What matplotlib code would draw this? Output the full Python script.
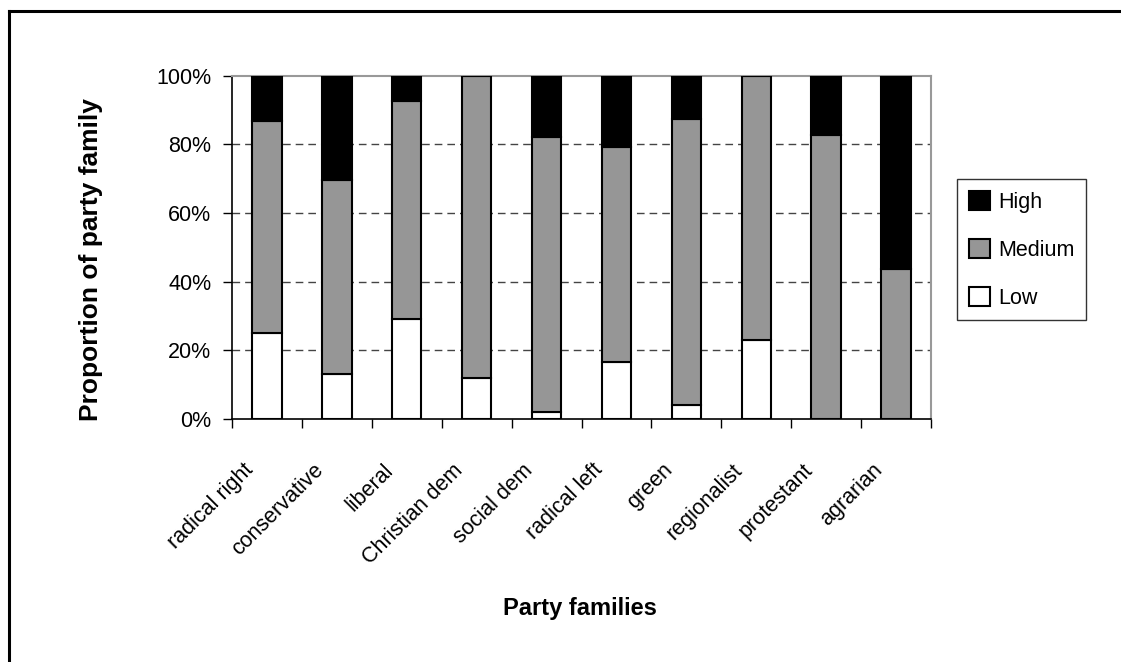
import matplotlib
matplotlib.use("Agg")
import matplotlib.pyplot as plt
import matplotlib.transforms as mtransforms
from matplotlib.lines import Line2D
import numpy as np

plt.rcParams['font.family'] = ['Liberation Sans', 'DejaVu Sans']
plt.rcParams['lines.scale_dashes'] = False

categories = ["radical right", "conservative", "liberal", "Christian dem", "social dem",
              "radical left", "green", "regionalist", "protestant", "agrarian"]
low = [25.0, 13.1, 29.2, 11.8, 1.9, 16.6, 4.1, 23.0, 0.0, 0.0]
medium = [61.8, 56.5, 63.3, 88.2, 80.1, 62.6, 83.4, 77.0, 82.6, 43.6]
high = [13.2, 30.4, 7.5, 0.0, 18.0, 20.8, 12.5, 0.0, 17.4, 56.4]
yticks = [0, 20, 40, 60, 80, 100]
ytick_labels = ["0%", "20%", "40%", "60%", "80%", "100%"]

W, H = 1121, 662
fig = plt.figure(figsize=(W / 100, H / 100), dpi=100)
ax = fig.add_axes([232 / W, 1 - 419 / H, (931 - 232) / W, (419 - 75.7) / H])

x = np.arange(len(categories))
bw = 0.42
ekw = dict(edgecolor='black', linewidth=1.5, width=bw, zorder=3)
low_a = np.array(low)
med_a = np.array(medium)
high_a = np.array(high)
b_low = ax.bar(x, low_a, color='white', label='Low', **ekw)
b_med = ax.bar(x, med_a, bottom=low_a, color='#969696', label='Medium', **ekw)
b_high = ax.bar(x, high_a, bottom=low_a + med_a, color='black', label='High', **ekw)

ax.set_xlim(-0.5, len(categories) - 0.5)
ax.set_ylim(0, 100)
ax.set_yticks(yticks)
ax.set_yticklabels(ytick_labels, fontsize=15.5)
ax.set_xticks(np.arange(len(categories) + 1) - 0.5)
ax.set_xticklabels([])
ax.tick_params(axis='y', direction='out', length=6.5, width=1, pad=8.5, color='black')
ax.tick_params(axis='x', direction='out', length=6.5, width=1, color='black')

for yv in yticks[1:-1]:
    ax.axhline(yv, color='#444444', linewidth=1, dashes=(5.5, 3.6), zorder=1)

ax.spines['left'].set_color('black')
ax.spines['bottom'].set_color('black')
ax.spines['left'].set_linewidth(1.2)
ax.spines['bottom'].set_linewidth(1.2)
ax.spines['top'].set_color('#999999')
ax.spines['right'].set_color('#999999')
ax.spines['top'].set_linewidth(1.5)
ax.spines['right'].set_linewidth(1.5)

# rotated category labels
for i, c in enumerate(categories):
    off = mtransforms.ScaledTranslation(-13 / 100, 0, fig.dpi_scale_trans)
    ax.text(i, 0, c, transform=mtransforms.blended_transform_factory(ax.transData, fig.transFigure) + off,
            fontsize=15.5, rotation=45, rotation_mode='anchor', ha='right', va='baseline',
            position=(i, 1 - 471 / H))

fig.text(580 / W, 1 - 608 / H, "Party families", fontsize=17, fontweight='bold',
         ha='center', va='center')
fig.text(91 / W, 1 - 260 / H, "Proportion of party family", fontsize=19, fontweight='bold',
         ha='center', va='center', rotation=90)

leg = fig.legend(handles=[b_high, b_med, b_low], labels=['High', 'Medium', 'Low'],
                 loc='upper left', bbox_to_anchor=(957 / W, 1 - 179 / H),
                 fontsize=15.5, frameon=True, fancybox=False, shadow=False,
                 handlelength=1.0, handleheight=1.0, handletextpad=0.35,
                 labelspacing=1.2, borderpad=0.55, borderaxespad=0)
leg.get_frame().set_edgecolor('black')
leg.get_frame().set_linewidth(1.0)

# outer frame (top and left)
fig.add_artist(Line2D([8.5 / W, 8.5 / W], [0, 1 - 10.5 / H], transform=fig.transFigure,
                      color='black', linewidth=2.2))
fig.add_artist(Line2D([8.5 / W, 1], [1 - 10.5 / H, 1 - 10.5 / H], transform=fig.transFigure,
                      color='black', linewidth=2.2))

fig.savefig("out.png", dpi=100)
